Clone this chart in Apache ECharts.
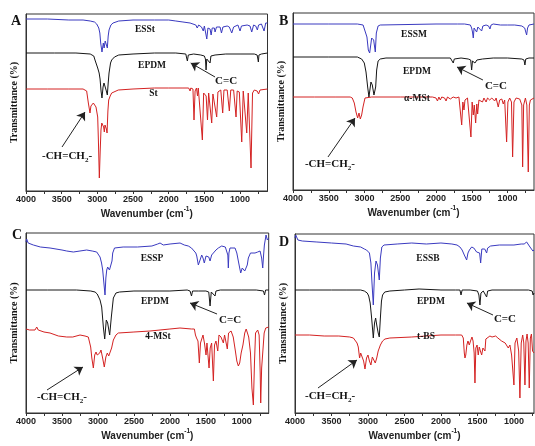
<!DOCTYPE html>
<html><head><meta charset="utf-8">
<script src="https://cdn.jsdelivr.net/npm/echarts@6/dist/echarts.min.js"></script>
<style>html,body{margin:0;padding:0;background:#fff}#c{width:535px;height:446px}</style>
</head><body><div id="c"></div>
<script>
// ---------------- data: [wavenumber (cm-1), transmittance (a.u.)] ----------------
const A_ESSt = [[4000,172],[3700,172],[3400,171],[3200,171],[3100,170],[3040,169],[3009,167],[2980,163],[2965,158],[2953,148],[2935,139],[2916,148],[2905,143],[2890,150],[2878,149],[2860,143],[2848,155],[2836,161],[2810,166],[2780,168],[2700,170],[2500,171],[2200,171],[2000,171],[1900,170],[1800,169],[1700,168],[1620,166],[1600,163],[1580,166],[1540,164],[1515,160],[1500,165],[1480,163],[1466,152],[1450,163],[1420,162],[1405,156],[1390,163],[1360,163],[1350,159],[1330,164],[1280,164],[1260,158],[1240,164],[1180,165],[1150,164],[1116,158],[1090,164],[1030,166],[1010,164],[1000,160],[980,165],[900,166],[860,165],[836,159],[810,166],[780,165],[757,161],[740,166],[700,167],[663,160],[640,168],[615,168]];
const A_EPDM = [[4000,138],[3600,138],[3300,138],[3100,137],[3050,135],[3033,131],[3010,129],[2995,123],[2975,118],[2962,112],[2948,100],[2935,93],[2920,104],[2907,108],[2890,104],[2878,101],[2860,96],[2848,108],[2836,118],[2815,128],[2799,131],[2760,134],[2700,136],[2500,137],[2200,138],[1900,138],[1760,137],[1748,133],[1738,130],[1725,136],[1650,137],[1550,136],[1500,135],[1485,132],[1476,121],[1466,132],[1440,134],[1420,128],[1408,135],[1350,136],[1200,137],[1000,137],[800,137],[760,136],[750,132],[743,129],[735,136],[700,137],[615,138]];
const A_St = [[4000,102],[3700,102],[3400,102],[3200,102],[3150,100],[3126,88],[3110,86],[3103,78],[3090,85],[3080,84],[3056,88],[3035,86],[3019,84],[3005,82],[2995,74],[2985,50],[2972,13],[2960,40],[2949,61],[2938,68],[2925,66],[2912,64],[2902,59],[2893,66],[2883,68],[2873,62],[2864,58],[2852,80],[2841,91],[2820,95],[2799,98],[2706,101],[2500,102],[2200,103],[2000,103],[1800,103],[1720,103],[1700,100],[1690,103],[1660,102],[1645,71],[1630,100],[1610,103],[1596,95],[1585,103],[1560,102],[1528,51],[1510,98],[1490,100],[1475,95],[1456,71],[1440,98],[1420,100],[1397,68],[1380,97],[1360,99],[1327,74],[1310,99],[1270,101],[1243,78],[1225,101],[1180,101],[1150,80],[1130,101],[1090,101],[1056,74],[1040,100],[1010,99],[976,49],[955,100],[930,98],[906,58],[885,98],[865,97],[846,23],[825,98],[800,101],[760,100],[740,97],[720,101],[615,102]];

const B_ESSM = [[4000,166],[3500,166],[3100,166],[3020,165],[2993,163],[2966,153],[2947,140],[2928,137],[2900,152],[2872,150],[2849,138],[2835,157],[2810,164],[2780,165],[2000,166],[1700,166],[1600,166],[1520,165],[1502,162],[1490,158],[1479,152],[1468,162],[1450,162],[1432,158],[1415,163],[1390,164],[1362,159],[1345,164],[1300,165],[1265,164],[1246,161],[1230,165],[1200,166],[1100,165],[1000,165],[900,165],[800,164],[760,162],[745,158],[733,155],[720,162],[700,165],[680,166],[630,166]];
const B_EPDM = [[4000,133],[3500,133],[3100,133],[3040,131],[3003,127],[2979,118],[2956,103],[2938,93],[2910,108],[2891,105],[2868,95],[2844,103],[2830,120],[2810,129],[2780,131],[2700,132],[2000,132],[1800,132],[1775,131],[1759,127],[1745,131],[1650,132],[1550,131],[1515,130],[1502,120],[1490,129],[1470,130],[1456,127],[1442,126],[1428,130],[1350,131],[1200,132],[1000,132],[800,131],[770,130],[757,125],[745,131],[700,132],[630,132]];
const B_aMSt = [[4000,93],[3700,93],[3400,93],[3200,93],[3171,92],[3143,87],[3119,78],[3096,72],[3077,77],[3059,71],[3040,75],[3021,83],[2993,92],[2900,93],[2500,93],[2100,93],[2050,93],[2000,92],[1980,89],[1960,93],[1940,90],[1920,93],[1880,92],[1860,89],[1840,93],[1800,91],[1780,89],[1760,93],[1720,92],[1700,90],[1680,93],[1660,91],[1641,65],[1625,88],[1609,80],[1595,90],[1580,91],[1560,92],[1540,90],[1512,53],[1495,88],[1479,75],[1465,85],[1446,67],[1430,86],[1418,76],[1400,90],[1380,91],[1350,88],[1330,92],[1300,88],[1280,92],[1250,90],[1220,92],[1180,89],[1160,92],[1130,83],[1110,90],[1080,91],[1060,86],[1040,90],[1013,48],[995,88],[970,92],[945,88],[929,33],[910,88],[880,92],[830,91],[800,85],[789,23],[775,85],[750,92],[730,85],[710,18],[695,85],[680,90],[630,92]];

const C_ESSP = [[4000,171],[3991,174],[3970,170],[3898,168],[3800,166],[3666,165],[3500,163],[3434,162],[3342,161],[3250,162],[3157,163],[3080,162],[3017,161],[2990,159],[2971,156],[2950,150],[2934,143],[2915,128],[2902,118],[2890,135],[2878,143],[2865,146],[2856,145],[2840,143],[2818,141],[2805,152],[2795,160],[2770,165],[2650,166],[2450,166],[2250,167],[2170,169],[2137,170],[2110,168],[2092,168],[1998,169],[1859,170],[1800,168],[1744,167],[1700,165],[1674,163],[1640,160],[1627,157],[1605,148],[1581,153],[1558,158],[1540,155],[1522,150],[1498,157],[1480,158],[1460,156],[1442,152],[1420,158],[1396,160],[1360,163],[1327,165],[1280,167],[1230,166],[1210,165],[1195,158],[1188,145],[1180,160],[1165,165],[1095,165],[1070,160],[1049,152],[1030,145],[1016,140],[995,145],[979,143],[960,142],[942,140],[925,148],[910,155],[880,160],[863,162],[817,160],[780,161],[747,162],[725,155],[710,145],[698,158],[687,168],[664,178],[646,173],[627,175]];
const C_EPDM = [[4000,123],[3700,123],[3300,123],[3100,122],[3040,121],[3010,119],[2995,118],[2971,113],[2948,106],[2925,86],[2906,74],[2884,93],[2865,90],[2837,78],[2814,96],[2786,115],[2750,120],[2700,121],[2500,122],[2000,122],[1760,123],[1720,122],[1700,117],[1685,122],[1600,122],[1500,122],[1460,121],[1442,107],[1425,121],[1400,121],[1373,117],[1360,122],[1300,123],[1000,123],[800,123],[700,122],[685,118],[670,123],[627,123]];
const C_4MSt = [[4000,84],[3950,83],[3875,83],[3851,86],[3830,83],[3750,81],[3666,80],[3550,77],[3434,76],[3350,76],[3249,78],[3180,77],[3134,76],[3101,66],[3085,55],[3064,45],[3045,58],[3027,61],[3010,58],[2990,56],[2975,60],[2958,63],[2935,55],[2912,46],[2890,56],[2870,60],[2850,57],[2832,55],[2810,65],[2786,73],[2750,78],[2717,80],[2500,81],[2276,82],[2000,84],[1860,85],[1700,84],[1660,84],[1645,78],[1630,75],[1610,72],[1591,50],[1575,70],[1558,72],[1540,78],[1520,70],[1498,58],[1485,70],[1470,68],[1456,45],[1440,65],[1420,70],[1396,32],[1380,68],[1360,72],[1335,62],[1318,78],[1290,76],[1257,70],[1240,78],[1220,76],[1202,64],[1185,80],[1150,82],[1120,76],[1090,62],[1070,52],[1049,47],[1030,50],[1010,60],[985,68],[960,80],[940,84],[924,83],[905,76],[880,60],[860,25],[840,8],[825,50],[810,80],[780,83],[760,78],[745,40],[738,10],[725,45],[710,60],[690,80],[668,85],[627,86]];

const D_ESSB = [[4000,175],[3990,178],[3980,176],[3960,173],[3900,172],[3700,171],[3500,170],[3300,169],[3200,167],[3100,166],[3050,164],[3020,163],[3000,162],[2980,160],[2960,150],[2945,130],[2927,108],[2910,140],[2890,152],[2870,148],[2845,133],[2830,155],[2810,166],[2780,168],[2600,169],[2400,170],[2200,169],[2000,170],[1850,169],[1780,168],[1740,166],[1710,163],[1680,158],[1648,153],[1630,160],[1610,163],[1579,166],[1550,165],[1530,164],[1511,161],[1490,163],[1470,160],[1456,150],[1440,164],[1420,165],[1400,164],[1374,160],[1360,165],[1320,167],[1200,168],[1000,168],[900,169],[860,169],[826,171],[800,169],[780,166],[760,164],[740,162],[725,163]];
const D_EPDM = [[4000,123],[3800,123],[3500,123],[3300,123],[3100,123],[3050,122],[3010,120],[2990,117],[2970,110],[2950,95],[2927,75],[2910,90],[2895,95],[2880,88],[2860,80],[2845,76],[2830,95],[2815,112],[2800,118],[2770,121],[2700,122],[2500,123],[2300,124],[2000,123],[1800,123],[1740,123],[1725,118],[1710,123],[1600,123],[1500,122],[1480,118],[1466,108],[1452,120],[1420,122],[1395,120],[1374,116],[1360,122],[1300,123],[1000,123],[800,123],[750,122],[738,118],[725,120]];
const D_tBS = [[4000,78],[3800,78],[3600,77],[3400,77],[3250,76],[3200,75],[3180,73],[3150,70],[3133,66],[3115,55],[3100,60],[3080,58],[3060,52],[3041,44],[3020,55],[3000,58],[2980,52],[2960,48],[2940,56],[2925,54],[2900,50],[2880,55],[2860,62],[2830,68],[2800,72],[2767,74],[2700,75],[2400,76],[2200,77],[2000,78],[1800,78],[1716,78],[1694,75],[1680,60],[1671,55],[1660,58],[1645,68],[1630,72],[1612,68],[1595,72],[1575,76],[1560,72],[1545,60],[1534,30],[1522,65],[1505,68],[1489,58],[1475,66],[1460,62],[1442,58],[1425,65],[1410,66],[1397,62],[1385,74],[1360,75],[1329,77],[1300,76],[1280,78],[1250,77],[1220,75],[1200,74],[1169,72],[1150,74],[1120,70],[1100,70],[1078,65],[1055,68],[1032,58],[1015,60],[1000,28],[985,70],[960,75],[935,62],[918,15],[900,70],[880,78],[865,70],[849,28],[835,72],[820,79],[805,70],[790,25],[775,75],[760,79],[745,62],[725,60]];

// tick labels / tick positions (cm-1)
const LABEL_TICKS = [4000,3500,3000,2500,2000,1500,1000];
const ALL_TICKS = [4000,3750,3500,3250,3000,2750,2500,2250,2000,1750,1500,1250,1000,750];

// panel letters, names, text labels and arrows (in data coordinates)
const PANEL_LETTERS = ['A','B','C','D'];
const NAMES = [['ESSt','EPDM','St'],['ESSM','EPDM','α-MSt'],['ESSP','EPDM','4-MSt'],['ESSB','EPDM','t-BS']];
const NAME_POS = [[[2332,161],[2233,125],[2212,97]],[[2308,155],[2266,118],[2266,91]],[[2249,154],[2207,111],[2165,76]],[[2178,154],[2137,111],[2205,76]]];
const CC_TEXT = [[1196,110],[1162,104],[1164,93],[1123,94]];
const CC_ARROW = [[[1350,114],[1691,128]],[[1344,110],[1707,123]],[[1345,99],[1720,110]],[[1287,98],[1644,110]]];
const VINYL_TEXT = [[3425,34],[3483,25],[3500,15],[3520,16]];
const VINYL_ARROW = [[[3495,44],[3173,79]],[[3511,33],[3133,72]],[[3708,23],[3208,46]],[[3685,25],[3151,53]]];
const X_MIN = [615,630,627,725];
const Y_MAX = [177,177,180,179];

// ---------------- layout ----------------
const GRIDS = [
  {left:26, top:14, width:241.5, height:177},
  {left:293, top:13, width:241, height:177},
  {left:26, top:233, width:242.7, height:180},
  {left:295, top:234, width:239, height:179}
];
const LETTER_POS = [[11,14],[279,14],[12,228],[279,235]];
const COLORS = ['#3a3ac0','#161616','#d42222'];
const SERIES_DATA = [[A_ESSt,A_EPDM,A_St],[B_ESSM,B_EPDM,B_aMSt],[C_ESSP,C_EPDM,C_4MSt],[D_ESSB,D_EPDM,D_tBS]];

const SERIF = "'Liberation Serif','Times New Roman',serif";
const SANS = "'Liberation Sans',Arial,sans-serif";
const TXT = '#151515';

function arrowLine(seg){
  return {silent:true, animation:false, symbol:['none','arrow'], symbolSize:8, symbolKeepAspect:true,
    lineStyle:{color:'#222', width:1, type:'solid'}, itemStyle:{color:'#222'}, label:{show:false},
    emphasis:{disabled:true},
    data:[[{coord:seg[0]},{coord:seg[1]}]]};
}

const grid = [], xAxis = [], yAxis = [], series = [], title = [];
for (let i = 0; i < 4; i++) {
  grid.push(Object.assign({show:true, borderColor:'#333', borderWidth:1, backgroundColor:'transparent'}, GRIDS[i]));
  title.push({text: PANEL_LETTERS[i], left: LETTER_POS[i][0], top: LETTER_POS[i][1], padding:0,
    textStyle:{fontFamily:SERIF, fontWeight:'bold', fontSize:14, color:TXT}});
  xAxis.push({
    gridIndex:i, type:'value', inverse:true, min:X_MIN[i], max:4000,
    axisLine:{show:true, onZero:false, lineStyle:{color:'#333', width:1}},
    axisTick:{show:true, inside:false, length:3, customValues: ALL_TICKS.filter(v=>v>=X_MIN[i]), lineStyle:{color:'#333'}},
    axisLabel:{show:true, customValues: LABEL_TICKS, formatter:(v)=>String(Math.round(v)), margin:4, fontSize:9, fontWeight:'bold', fontFamily:SANS, color:'#222'},
    splitLine:{show:false},
    name:'{b|Wavenumber (cm}{s|-1}{b|)}', nameLocation:'middle', nameGap:15,
    nameTextStyle:{rich:{
      b:{fontFamily:SANS, fontWeight:'bold', fontSize:10, color:'#222', lineHeight:13, verticalAlign:'bottom'},
      s:{fontFamily:SANS, fontWeight:'bold', fontSize:6.5, color:'#222', lineHeight:7, verticalAlign:'top'}
    }}
  });
  yAxis.push({
    gridIndex:i, type:'value', min:0, max:Y_MAX[i],
    axisLine:{show:true, lineStyle:{color:'#333', width:1}},
    axisTick:{show:false}, axisLabel:{show:false}, splitLine:{show:false},
    name:'Transmittance (%)', nameLocation:'middle', nameGap:7, nameRotate:90,
    nameTextStyle:{fontFamily:SERIF, fontWeight:'bold', fontSize:10, color:TXT}
  });
  for (let s = 0; s < 3; s++) {
    const ser = {
      type:'line', xAxisIndex:i, yAxisIndex:i, data: SERIES_DATA[i][s],
      showSymbol:false, symbol:'none', silent:true, animation:false,
      lineStyle:{color:COLORS[s], width:1}, itemStyle:{color:COLORS[s]},
      markPoint:{symbol:'circle', symbolSize:0, silent:true, animation:false, itemStyle:{color:'transparent'},
        label:{show:true, position:'inside', color:TXT, fontFamily:SERIF, fontWeight:'bold', fontSize:9.5, formatter:'{b}'},
        data:[{name:NAMES[i][s], coord:NAME_POS[i][s]}]}
    };
    if (s === 1) {
      ser.markPoint.data.push({name:'C=C', coord:CC_TEXT[i], label:{fontSize:11}});
      ser.markLine = arrowLine(CC_ARROW[i]);
    }
    if (s === 2) {
      ser.markPoint.data.push({name:'vinyl', coord:VINYL_TEXT[i], label:{
        formatter:'{a|-CH=CH}{s|2}{a|-}',
        rich:{a:{fontFamily:SERIF, fontWeight:'bold', fontSize:11, color:TXT, lineHeight:13, verticalAlign:'top'},
              s:{fontFamily:SERIF, fontWeight:'bold', fontSize:7, color:TXT, lineHeight:7, verticalAlign:'bottom'}}}});
      ser.markLine = arrowLine(VINYL_ARROW[i]);
    }
    series.push(ser);
  }
}

const chart = echarts.init(document.getElementById('c'), null, {renderer:'canvas', width:535, height:446});
chart.setOption({animation:false, backgroundColor:'#fff', title, grid, xAxis, yAxis, series});
</script>
</body></html>
